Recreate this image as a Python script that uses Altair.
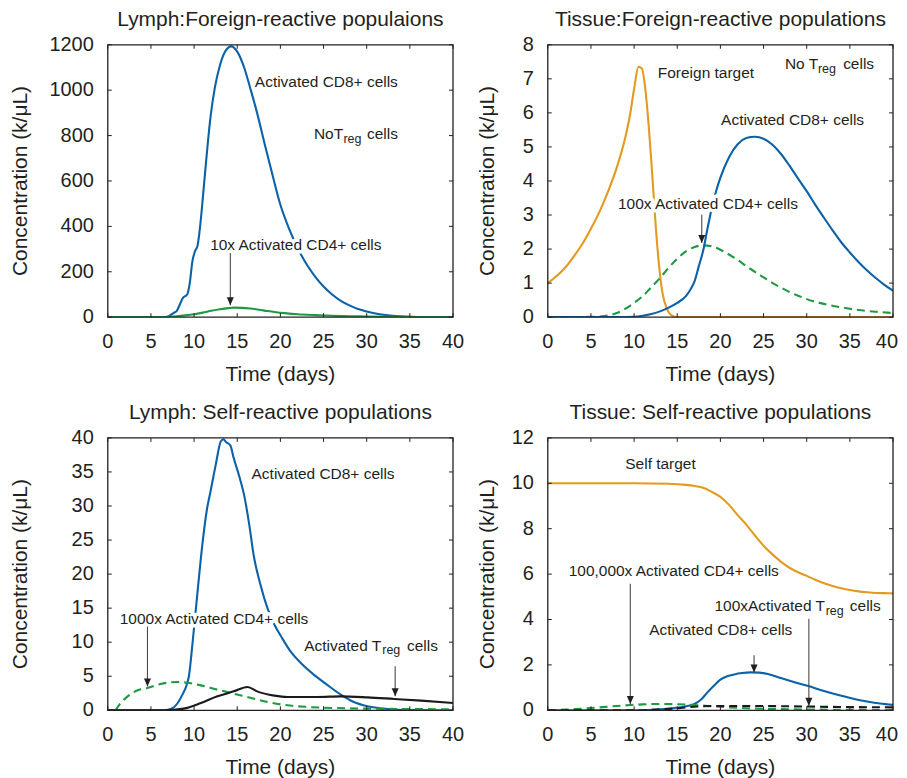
import altair as alt
import pandas as pd

FONT = "Liberation Sans"
INK = "#231f20"
BLUE = "#0b62a8"
ORANGE = "#e39a1e"
GREEN = "#1e9a43"
BLACK = "#1a1a1a"
W, H = 346, 273
TICK = 4

X_TICKS = [0, 5, 10, 15, 20, 25, 30, 35, 40]
X_TITLE = "Time (days)"
Y_TITLE = "Concentration (k/\u03bcL)"

# ---------------- Panel A: Lymph, foreign-reactive ----------------
A_CD8_DAY = [0, 5, 6.5, 7.0, 7.6, 8.0, 8.4, 8.7, 9.2, 9.5, 9.8, 10.1, 10.4, 10.7, 11.0, 11.4, 11.9,
             12.4, 13.0, 13.6, 14.3, 15.0, 15.8, 16.5, 17.3, 18.2, 19.0, 20.0, 21.0, 22.0, 23.0,
             24.0, 25.0, 26.0, 27.0, 28.0, 29.0, 30.0, 31.5, 33.0, 35.0, 37.5, 40.0]
A_CD8 = [0, 0, 0, 3, 18, 28, 60, 85, 100, 150, 245, 290, 315, 400, 520, 690, 880,
         1010, 1110, 1170, 1193, 1170, 1100, 1010, 900, 760, 640, 495, 390, 305, 235,
         180, 135, 100, 72, 52, 36, 25, 13, 6, 2, 0.5, 0]
A_CD4_DAY = [0, 5, 6, 7, 8, 9, 10, 11, 12, 13, 14, 14.7, 15.5, 16.5, 17.5, 18.5, 19.5, 20.5,
             22, 24, 26, 28, 30, 33, 36, 40]
A_CD4 = [0, 0.2, 0.8, 2, 4, 8, 13, 20, 28, 35, 40, 42, 41, 38, 33, 27, 22, 18,
         13, 9, 6, 4.3, 3, 1.8, 1, 0.5]

# ---------------- Panel B: Tissue, foreign-reactive ----------------
B_TGT_DAY = [0, 1, 2, 3, 4, 5, 6, 7, 8, 9, 9.5, 10, 10.5, 10.9, 11.3, 11.7, 12.1, 12.5, 12.9,
             13.3, 13.8, 14.3, 15, 40]
B_TGT = [1.0, 1.2, 1.45, 1.78, 2.15, 2.6, 3.1, 3.7, 4.4, 5.3, 5.9, 6.7, 7.35, 7.3, 6.7, 5.6,
         4.2, 2.7, 1.5, 0.7, 0.25, 0.06, 0, 0]
B_CD8_DAY = [0, 8, 10, 11, 12, 13, 14, 15, 16, 16.5, 17, 17.5, 18, 18.5, 19, 19.5, 20, 21, 22,
             23, 24, 25, 26, 27, 28, 29, 30, 31, 32, 33, 34, 35, 36, 37, 38, 39, 40]
B_CD8 = [0, 0, 0.01, 0.04, 0.09, 0.17, 0.28, 0.42, 0.62, 0.8, 1.05, 1.5, 1.95, 2.6, 3.2, 3.7,
         4.1, 4.7, 5.08, 5.26, 5.3, 5.24, 5.07, 4.8, 4.45, 4.07, 3.7, 3.3, 2.92, 2.55, 2.2,
         1.9, 1.62, 1.37, 1.15, 0.95, 0.78]
B_CD4_DAY = [0, 5, 6, 7, 8, 9, 10, 11, 12, 13, 14, 15, 16, 17, 18, 19, 20, 21, 22, 23, 24, 25,
             26, 27, 28, 29, 30, 32, 34, 36, 38, 40]
B_CD4 = [0, 0.01, 0.02, 0.05, 0.12, 0.25, 0.42, 0.62, 0.88, 1.15, 1.45, 1.72, 1.93, 2.06, 2.11,
         2.08, 1.98, 1.84, 1.68, 1.5, 1.33, 1.17, 1.01, 0.87, 0.74, 0.63, 0.53, 0.39, 0.29,
         0.21, 0.16, 0.12]

# ---------------- Panel C: Lymph, self-reactive ----------------
C_CD8_DAY = [0, 6.5, 7.5, 8.1, 8.65, 9.15, 9.4, 9.8, 10.4, 11.0, 11.5, 11.9, 12.5, 13.1, 13.4,
             13.7, 14.2, 14.6, 15.2, 15.8, 16.4, 16.9, 17.7, 18.5, 19.3, 20.2, 21.2, 22.4,
             23.9, 25.4, 27.0, 28.5, 30.1, 32.4, 35, 40]
C_CD8 = [0, 0, 0.3, 1.07, 2.3, 3.76, 5.0, 9.6, 17.4, 24.8, 29.6, 32.1, 36.0, 39.5, 39.8,
         39.4, 38.9, 37.0, 34.5, 31.6, 27.2, 22.8, 18.4, 15.0, 12.6, 10.6, 8.6, 6.9,
         5.2, 3.76, 2.3, 1.22, 0.59, 0.2, 0.05, 0]
C_CD4_DAY = [0.9, 1.5, 2.3, 3.4, 4.6, 6.1, 8.1, 9.2, 10.8, 12.7, 14.6, 16.6, 18.5, 20.8, 23.1,
             26.2, 30.1, 35, 40]
C_CD4 = [0, 1.07, 2.05, 2.9, 3.27, 3.86, 4.15, 4.05, 3.66, 3.03, 2.44, 1.81, 1.22, 0.73, 0.49,
         0.34, 0.24, 0.18, 0.15]
C_TREG_DAY = [0, 6.5, 8.8, 10.8, 12.7, 14.6, 16.2, 17.3, 19.3, 20.8, 24.3, 27.0, 30.1, 33.2,
              36.3, 40]
C_TREG = [0, 0, 0.24, 1.07, 2.05, 2.78, 3.42, 2.78, 2.15, 1.95, 1.95, 2.05, 1.9, 1.66, 1.42, 1.07]

# ---------------- Panel D: Tissue, self-reactive ----------------
D_TGT_DAY = [0, 10, 14, 16, 17, 18, 19, 20, 21, 22, 23, 24, 25, 26, 27, 28, 29, 30, 31, 32,
             33, 34, 35, 36, 37, 38, 39, 40]
D_TGT = [10.0, 10.0, 9.98, 9.93, 9.88, 9.8, 9.62, 9.4, 9.05, 8.6, 8.18, 7.7, 7.25, 6.88,
         6.55, 6.28, 6.08, 5.92, 5.75, 5.6, 5.48, 5.38, 5.3, 5.24, 5.2, 5.17, 5.16, 5.15]
D_CD8_DAY = [0, 10, 11.6, 13, 14, 15.4, 16.3, 17, 17.7, 18.5, 19.3, 20, 20.8, 21.6, 22.5, 23.5,
             24.5, 25.5, 27, 28.5, 30.1, 32, 33.9, 35.5, 37, 38.5, 40]
D_CD8 = [0, 0, 0.01, 0.04, 0.07, 0.13, 0.2, 0.28, 0.45, 0.79, 1.1, 1.35, 1.5, 1.58, 1.64, 1.67,
         1.66, 1.6, 1.42, 1.25, 1.08, 0.85, 0.65, 0.5, 0.39, 0.3, 0.24]
D_CD4_DAY = [0, 2, 3.9, 6, 8, 9.6, 11, 12.7, 14.5, 16.2, 17.8, 19.3, 21, 23.1, 26, 30.8, 35, 40]
D_CD4 = [0, 0.03, 0.07, 0.13, 0.19, 0.23, 0.26, 0.28, 0.27, 0.25, 0.21, 0.17, 0.13, 0.09, 0.06,
         0.03, 0.02, 0.01]
D_TREG_DAY = [0, 10.4, 13, 15.4, 17.3, 20, 24, 27, 33, 40]
D_TREG = [0, 0, 0.04, 0.1, 0.17, 0.19, 0.19, 0.18, 0.15, 0.13]

# ---------------- Annotations (text, day, value at baseline) ----------------
A_TXT = ["Activated CD8+ cells", "NoT", "cells", "10x Activated CD4+ cells"]
A_TXT_X = [17.04, 23.88, 30.03, 11.86]
A_TXT_Y = [1015, 784, 784, 298]
A_SUB = ["reg"]; A_SUB_X = [27.3]; A_SUB_Y = [769]
A_ARR_X = [14.2]; A_ARR_FROM = [283]; A_ARR_TO = [53]

B_TXT = ["Foreign target", "No T", "cells", "Activated CD8+ cells", "100x Activated CD4+ cells"]
B_TXT_X = [12.75, 27.48, 34.22, 20.08, 8.13]
B_TXT_Y = [7.03, 7.28, 7.28, 5.63, 3.17]
B_SUB = ["reg"]; B_SUB_X = [31.3]; B_SUB_Y = [7.18]
B_ARR_X = [17.84]; B_ARR_FROM = [3.01]; B_ARR_TO = [2.18]

C_TXT = ["Activated CD8+ cells", "1000x Activated CD4+ cells", "Activated T", "cells"]
C_TXT_X = [16.66, 1.39, 22.76, 34.67]
C_TXT_Y = [33.9, 12.7, 8.75, 8.75]
C_SUB = ["reg"]; C_SUB_X = [31.8]; C_SUB_Y = [8.28]
C_ARR_X = [4.6, 33.3]; C_ARR_FROM = [12.3, 6.45]; C_ARR_TO = [3.5, 2.05]

D_TXT = ["Self target", "100,000x Activated CD4+ cells", "100xActivated T", "cells",
         "Activated CD8+ cells"]
D_TXT_X = [8.98, 2.43, 19.31, 35.0, 11.76]
D_TXT_Y = [10.62, 5.9, 4.37, 4.37, 3.3]
D_SUB = ["reg"]; D_SUB_X = [32.2]; D_SUB_Y = [4.21]
D_ARR_X = [9.56, 23.9, 30.25]; D_ARR_FROM = [5.57, 2.42, 4.03]; D_ARR_TO = [0.28, 1.67, 0.2]

ARROW_HEAD = "M-0.44,-1L0.44,-1L0,0Z"


def make_panel(title, ymax, ystep, series, txt, sub, arr, ytitle_x, right_col):
    xs = alt.Scale(domain=[0, 40], nice=False, zero=False)
    ys = alt.Scale(domain=[0, ymax], nice=False, zero=False)
    y_ticks = list(range(0, ymax + 1, ystep))
    X = alt.X("day:Q", scale=xs, axis=None)
    Y = alt.Y("val:Q", scale=ys, axis=None)

    layers = []
    for days, vals, color, dash in series:
        df = pd.DataFrame({"day": days, "val": vals})
        kw = dict(color=color, strokeWidth=2.1, interpolate="monotone", clip=True)
        if dash:
            kw["strokeDash"] = [8, 5]
        layers.append(alt.Chart(df).mark_line(**kw).encode(x=X, y=Y))

    # inward ticks on all four sides
    xt = pd.DataFrame({"day": X_TICKS})
    yt = pd.DataFrame({"val": y_ticks})
    rule = dict(color=INK, strokeWidth=1)
    layers.append(alt.Chart(xt).mark_rule(**rule).encode(
        x=X, y=alt.value(H), y2=alt.value(H - TICK)))
    layers.append(alt.Chart(xt).mark_rule(**rule).encode(
        x=X, y=alt.value(0), y2=alt.value(TICK)))
    layers.append(alt.Chart(yt).mark_rule(**rule).encode(
        y=Y, x=alt.value(0), x2=alt.value(TICK)))
    layers.append(alt.Chart(yt).mark_rule(**rule).encode(
        y=Y, x=alt.value(W), x2=alt.value(W - TICK)))

    # annotations with a white halo
    t_df = pd.DataFrame({"t": txt[0], "day": txt[1], "val": txt[2]})
    s_df = pd.DataFrame({"t": sub[0], "day": sub[1], "val": sub[2]})
    for df, fs in ((t_df, 15.5), (s_df, 12.5)):
        layers.append(alt.Chart(df).mark_text(
            align="left", baseline="alphabetic", font=FONT, fontSize=fs, fill="white",
            stroke="white", strokeWidth=7, strokeJoin="round").encode(x=X, y=Y, text="t:N"))
    for df, fs in ((t_df, 15.5), (s_df, 12.5)):
        layers.append(alt.Chart(df).mark_text(
            align="left", baseline="alphabetic", font=FONT, fontSize=fs, color=INK).encode(
            x=X, y=Y, text="t:N"))

    a_df = pd.DataFrame({"day": arr[0], "val": arr[1], "tip": arr[2]})
    layers.append(alt.Chart(a_df).mark_rule(color="#4a4a4a", strokeWidth=1.1).encode(
        x=X, y=Y, y2="tip:Q"))
    layers.append(alt.Chart(a_df).mark_point(
        shape=ARROW_HEAD, filled=True, size=256, color=INK, opacity=1, strokeWidth=0).encode(
        x=X, y=alt.Y("tip:Q", scale=ys, axis=None)))

    # plot frame
    one = pd.DataFrame({"title": [title], "xt": [X_TITLE], "yt": [Y_TITLE]})
    layers.append(alt.Chart(one).mark_rect(
        fillOpacity=0, stroke=INK, strokeWidth=1.3).encode(
        x=alt.value(0), x2=alt.value(W), y=alt.value(0), y2=alt.value(H)))

    # tick labels (placed by the scales)
    lab = dict(font=FONT, fontSize=20, color=INK)
    xl = pd.DataFrame({"day": X_TICKS, "lab": [str(t) for t in X_TICKS]})
    yl = pd.DataFrame({"val": y_ticks, "lab": [str(v) for v in y_ticks]})
    if right_col:
        layers.append(alt.Chart(xl[xl["day"] < 40]).mark_text(
            align="center", baseline="alphabetic", **lab).encode(
            x=X, y=alt.value(H + 31), text="lab:N"))
        layers.append(alt.Chart(xl[xl["day"] == 40]).mark_text(
            align="right", baseline="alphabetic", dx=5, **lab).encode(
            x=X, y=alt.value(H + 31), text="lab:N"))
    else:
        layers.append(alt.Chart(xl).mark_text(
            align="center", baseline="alphabetic", **lab).encode(
            x=X, y=alt.value(H + 31), text="lab:N"))
    layers.append(alt.Chart(yl).mark_text(
        align="right", baseline="middle", **lab).encode(
        y=Y, x=alt.value(-14), text="lab:N"))

    # axis titles and panel title
    ttl = dict(font=FONT, fontSize=21, color=INK)
    layers.append(alt.Chart(one).mark_text(align="center", baseline="alphabetic", **ttl).encode(
        x=alt.value(W / 2), y=alt.value(H + 64), text="xt:N"))
    layers.append(alt.Chart(one).mark_text(
        align="center", baseline="middle", angle=270, **ttl).encode(
        x=alt.value(ytitle_x), y=alt.value(H / 2), text="yt:N"))
    layers.append(alt.Chart(one).mark_text(align="center", baseline="alphabetic", **ttl).encode(
        x=alt.value(W / 2), y=alt.value(-18.5), text="title:N"))

    return alt.layer(*layers).properties(width=W, height=H)


pA = make_panel("Lymph:Foreign-reactive populaions", 1200, 200,
                [(A_CD8_DAY, A_CD8, BLUE, False), (A_CD4_DAY, A_CD4, GREEN, False)],
                (A_TXT, A_TXT_X, A_TXT_Y), (A_SUB, A_SUB_X, A_SUB_Y),
                (A_ARR_X, A_ARR_FROM, A_ARR_TO), -86.8, False)
pB = make_panel("Tissue:Foreign-reactive populations", 8, 1,
                [(B_TGT_DAY, B_TGT, ORANGE, False), (B_CD4_DAY, B_CD4, GREEN, True),
                 (B_CD8_DAY, B_CD8, BLUE, False)],
                (B_TXT, B_TXT_X, B_TXT_Y), (B_SUB, B_SUB_X, B_SUB_Y),
                (B_ARR_X, B_ARR_FROM, B_ARR_TO), -59.5, True)
pC = make_panel("Lymph: Self-reactive populations", 40, 5,
                [(C_CD8_DAY, C_CD8, BLUE, False), (C_CD4_DAY, C_CD4, GREEN, True),
                 (C_TREG_DAY, C_TREG, BLACK, False)],
                (C_TXT, C_TXT_X, C_TXT_Y), (C_SUB, C_SUB_X, C_SUB_Y),
                (C_ARR_X, C_ARR_FROM, C_ARR_TO), -86.8, False)
pD = make_panel("Tissue: Self-reactive populations", 12, 2,
                [(D_TGT_DAY, D_TGT, ORANGE, False), (D_CD8_DAY, D_CD8, BLUE, False),
                 (D_CD4_DAY, D_CD4, GREEN, True), (D_TREG_DAY, D_TREG, BLACK, True)],
                (D_TXT, D_TXT_X, D_TXT_Y), (D_SUB, D_SUB_X, D_SUB_Y),
                (D_ARR_X, D_ARR_FROM, D_ARR_TO), -59.5, True)

chart = alt.concat(pA, pB, pC, pD, columns=2, spacing={"row": 16, "column": 12}).properties(
    padding={"left": 1, "top": 0, "right": 0, "bottom": 0}
).configure_view(stroke="transparent")

chart.save("out.html", embed_options={"renderer": "svg", "actions": False})
